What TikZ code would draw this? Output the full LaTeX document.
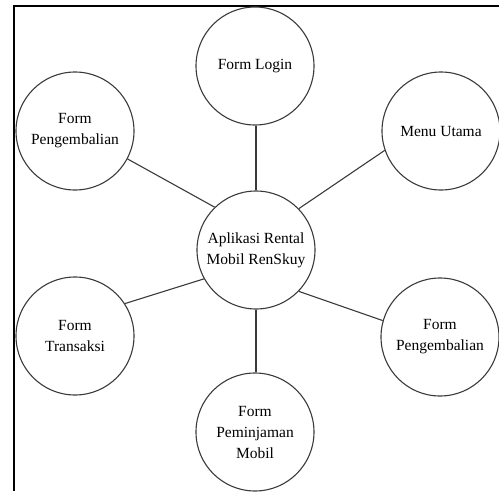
\documentclass[tikz,border=0pt]{standalone}
\usepackage{fontspec}
\setmainfont{Liberation Serif}
\usepackage{tikz}
\usetikzlibrary{positioning}
\definecolor{ink}{HTML}{3A3A3A}

\begin{document}
\begin{tikzpicture}[
  x=1pt, y=-1pt,
  topic/.style={circle, draw=ink, line width=1.1pt, minimum size=118pt, inner sep=0pt, align=center,
    font=\fontsize{15.5}{21}\selectfont},
  link/.style={draw=ink, line width=1.1pt}
]
  \useasboundingbox (0,0) rectangle (499,491);
  % frame of the screenshot
  \draw[line width=1.2pt, black] (14,491) |- (499,6);
  \node[topic] (app) at (256,250) {Aplikasi Rental\\Mobil RenSkuy};
  \node[topic] (login) at (255,66) {Form Login};
  \node[topic] (menu) at (441,131) {Menu Utama};
  \node[topic] (kembalikiri) at (75,131) {Form\\Pengembalian};
  \node[topic] (transaksi) at (75,336) {Form\\Transaksi};
  \node[topic] (kembalikanan) at (440,337) {Form\\Pengembalian};
  \node[topic] (pinjam) at (255,432) {Form\\Peminjaman\\Mobil};
  \draw[link] (app.north) -- (app.north |- login.south);
  \draw[link] (app.44) -- (menu.-161);
  \draw[link] (app.134) -- (kembalikiri.-28);
  \draw[link] (app.-151) -- (transaksi.33);
  \draw[link] (app.-44) -- (kembalikanan.164);
  \draw[link] (app.south) -- (app.south |- pinjam.north);
\end{tikzpicture}
\end{document}
